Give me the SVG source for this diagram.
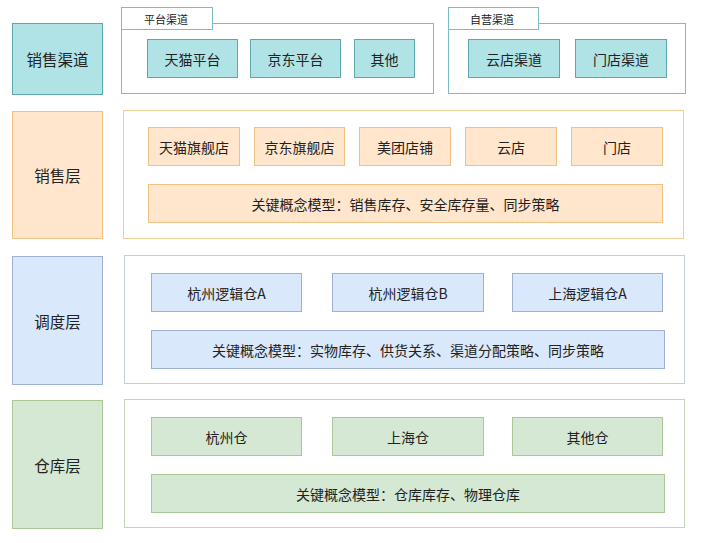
<svg xmlns="http://www.w3.org/2000/svg" width="710" height="543" viewBox="0 0 710 543">
<style>
text{font-family:"Noto Sans CJK SC","Noto Sans",sans-serif;fill:#222;text-anchor:middle;dominant-baseline:central}
.t{fill:#b0e3e6;stroke:#5ea8ad;stroke-width:1}
.tc{fill:#fff;stroke:#7dbcc0;stroke-width:1}
.o{fill:#ffe6cc;stroke:#eec282;stroke-width:1}
.oc{fill:#fff;stroke:#f0cf96;stroke-width:1}
.b{fill:#dae8fc;stroke:#9fb1d3;stroke-width:1}
.bc{fill:#fff;stroke:#c3cde3;stroke-width:1}
.g{fill:#d5e8d4;stroke:#a9c896;stroke-width:1}
.gc{fill:#fff;stroke:#c2d8b4;stroke-width:1}
.n{font-size:14px}
.l{font-size:15.5px}
.s{font-size:11px}
</style>
<rect width="710" height="543" fill="#fff"/>
<g id="connectors"></g>

<!-- Channel row -->
<g id="layer-channel"><rect class="t" x="12.5" y="23.5" width="90" height="71"/><text class="l" x="57.5" y="59">销售渠道</text></g>
<g id="platform-channel">
<rect class="tc" x="121.5" y="23.5" width="312" height="70"/>
<rect class="tc" x="121.5" y="7.5" width="91" height="22"/>
<text class="s" x="166" y="18.5">平台渠道</text>
</g>
<g id="tmall-platform"><rect class="t" x="147.5" y="39.5" width="90" height="38"/><text class="n" x="192.5" y="58.5">天猫平台</text></g>
<g id="jd-platform"><rect class="t" x="250.5" y="39.5" width="90" height="38"/><text class="n" x="295.5" y="58.5">京东平台</text></g>
<g id="other-platform"><rect class="t" x="354.5" y="39.5" width="60" height="38"/><text class="n" x="384.5" y="58.5">其他</text></g>
<g id="self-channel">
<rect class="tc" x="448.5" y="23.5" width="237" height="70"/>
<rect class="tc" x="448.5" y="7.5" width="90" height="22"/>
<text class="s" x="492" y="18.5">自营渠道</text>
</g>
<g id="cloud-channel"><rect class="t" x="468.5" y="39.5" width="91" height="38"/><text class="n" x="514" y="58.5">云店渠道</text></g>
<g id="store-channel"><rect class="t" x="575.5" y="39.5" width="91" height="38"/><text class="n" x="621" y="58.5">门店渠道</text></g>

<!-- Sales layer -->
<g id="layer-sales"><rect class="o" x="12.5" y="111.5" width="90" height="127"/><text class="l" x="57.5" y="175">销售层</text></g>
<g id="sales-container"><rect class="oc" x="123.5" y="110.5" width="560" height="128"/></g>
<g id="tmall-store"><rect class="o" x="148.5" y="127.5" width="91" height="38"/><text class="n" x="194" y="146.5">天猫旗舰店</text></g>
<g id="jd-store"><rect class="o" x="254.5" y="127.5" width="90" height="38"/><text class="n" x="299.5" y="146.5">京东旗舰店</text></g>
<g id="meituan-store"><rect class="o" x="359.5" y="127.5" width="91" height="38"/><text class="n" x="405" y="146.5">美团店铺</text></g>
<g id="cloud-store"><rect class="o" x="465.5" y="127.5" width="91" height="38"/><text class="n" x="511" y="146.5">云店</text></g>
<g id="store"><rect class="o" x="571.5" y="127.5" width="91" height="38"/><text class="n" x="617" y="146.5">门店</text></g>
<g id="sales-model"><rect class="o" x="148.5" y="184.5" width="514" height="38"/><text class="n" x="405.5" y="203.5">关键概念模型：销售库存、安全库存量、同步策略</text></g>

<!-- Dispatch layer -->
<g id="layer-dispatch"><rect class="b" x="12.5" y="256.5" width="90" height="128"/><text class="l" x="57.5" y="321">调度层</text></g>
<g id="dispatch-container"><rect class="bc" x="124.5" y="255.5" width="560" height="128"/></g>
<g id="hz-logic-a"><rect class="b" x="151.5" y="273.5" width="150" height="38"/><text class="n" x="226.5" y="292.5">杭州逻辑仓A</text></g>
<g id="hz-logic-b"><rect class="b" x="332.5" y="273.5" width="151" height="38"/><text class="n" x="408" y="292.5">杭州逻辑仓B</text></g>
<g id="sh-logic-a"><rect class="b" x="512.5" y="273.5" width="150" height="38"/><text class="n" x="587.5" y="292.5">上海逻辑仓A</text></g>
<g id="dispatch-model"><rect class="b" x="151.5" y="330.5" width="513" height="38"/><text class="n" x="408" y="349.5">关键概念模型：实物库存、供货关系、渠道分配策略、同步策略</text></g>

<!-- Warehouse layer -->
<g id="layer-warehouse"><rect class="g" x="12.5" y="400.5" width="90" height="128"/><text class="l" x="57.5" y="465">仓库层</text></g>
<g id="warehouse-container"><rect class="gc" x="124.5" y="399.5" width="560" height="128"/></g>
<g id="hz-wh"><rect class="g" x="151.5" y="417.5" width="150" height="38"/><text class="n" x="226.5" y="436.5">杭州仓</text></g>
<g id="sh-wh"><rect class="g" x="332.5" y="417.5" width="151" height="38"/><text class="n" x="408" y="436.5">上海仓</text></g>
<g id="other-wh"><rect class="g" x="512.5" y="417.5" width="150" height="38"/><text class="n" x="587.5" y="436.5">其他仓</text></g>
<g id="warehouse-model"><rect class="g" x="151.5" y="474.5" width="513" height="38"/><text class="n" x="408" y="493.5">关键概念模型：仓库库存、物理仓库</text></g>
</svg>
